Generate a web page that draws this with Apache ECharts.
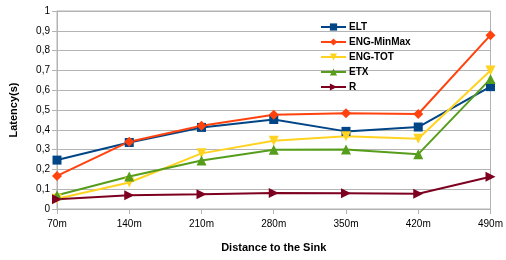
<!DOCTYPE html>
<html>
<head>
<meta charset="utf-8">
<script src="https://cdn.jsdelivr.net/npm/echarts@6/dist/echarts.min.js"></script>
<style>
  html, body { margin: 0; padding: 0; background: #fff; }
  #chart { width: 506px; height: 260px; }
</style>
</head>
<body>
<div id="chart"></div>
<script>
const categories = ['70m', '140m', '210m', '280m', '350m', '420m', '490m'];
const eltData = [0.247, 0.336, 0.412, 0.452, 0.392, 0.414, 0.618];
const engMinMaxData = [0.167, 0.340, 0.420, 0.476, 0.483, 0.480, 0.878];
const engTotData = [0.052, 0.134, 0.281, 0.345, 0.367, 0.355, 0.700];
const etxData = [0.069, 0.164, 0.245, 0.299, 0.301, 0.277, 0.657];
const rData = [0.049, 0.069, 0.074, 0.081, 0.080, 0.077, 0.163];

const chart = echarts.init(document.getElementById('chart'));

function line(name, data, color, symbol, size, rotate) {
    return {
        name: name,
        type: 'line',
        data: data,
        symbol: symbol,
        symbolSize: size,
        symbolRotate: rotate || 0,
        showAllSymbol: true,
        lineStyle: { color: color, width: 2 },
        itemStyle: { color: color },
        emphasis: { disabled: true },
        animation: false
    };
}

const option = {
    animation: false,
    textStyle: { fontFamily: 'Liberation Sans' },
    grid: {
        left: 57,
        right: 11,
        top: 11,
        bottom: 51,
        show: true,
        borderColor: '#b3b3b3',
        borderWidth: 1
    },
    legend: {
        orient: 'vertical',
        left: 320,
        top: 22,
        padding: 0,
        itemGap: 5,
        itemWidth: 25,
        itemHeight: 9,
        textStyle: { fontSize: 10, fontWeight: 'bold', color: '#000', padding: [0, 0, 0, -2] },
        data: ['ELT', 'ENG-MinMax', 'ENG-TOT', 'ETX', 'R']
    },
    xAxis: {
        type: 'category',
        data: categories,
        boundaryGap: false,
        name: 'Distance to the Sink',
        nameLocation: 'middle',
        nameGap: 33,
        nameTextStyle: { fontSize: 11, fontWeight: 'bold', color: '#000' },
        axisLine: { lineStyle: { color: '#b3b3b3' } },
        axisTick: { show: true, length: 5, lineStyle: { color: '#b3b3b3' } },
        axisLabel: { fontSize: 10, color: '#000', margin: 10 },
        splitLine: { show: false }
    },
    yAxis: {
        type: 'value',
        min: 0,
        max: 1,
        interval: 0.1,
        name: 'Latency(s)',
        nameLocation: 'middle',
        nameGap: 38,
        nameTextStyle: { fontSize: 11, fontWeight: 'bold', color: '#000' },
        axisLine: { show: true, lineStyle: { color: '#b3b3b3' } },
        axisTick: { show: true, length: 5, lineStyle: { color: '#b3b3b3' } },
        axisLabel: {
            fontSize: 10,
            color: '#000',
            margin: 7,
            formatter: v => String(Math.round(v * 10) / 10).replace('.', ',')
        },
        splitLine: { lineStyle: { color: '#b3b3b3' } }
    },
    series: [
        line('ELT', eltData, '#004586', 'rect', 9),
        line('ENG-MinMax', engMinMaxData, '#ff420e', 'diamond', 10),
        line('ENG-TOT', engTotData, '#ffd320', 'triangle', 10, 180),
        line('ETX', etxData, '#579d1c', 'triangle', 10),
        line('R', rData, '#7e0021', 'triangle', 10, -90)
    ]
};

chart.setOption(option);
</script>
</body>
</html>
